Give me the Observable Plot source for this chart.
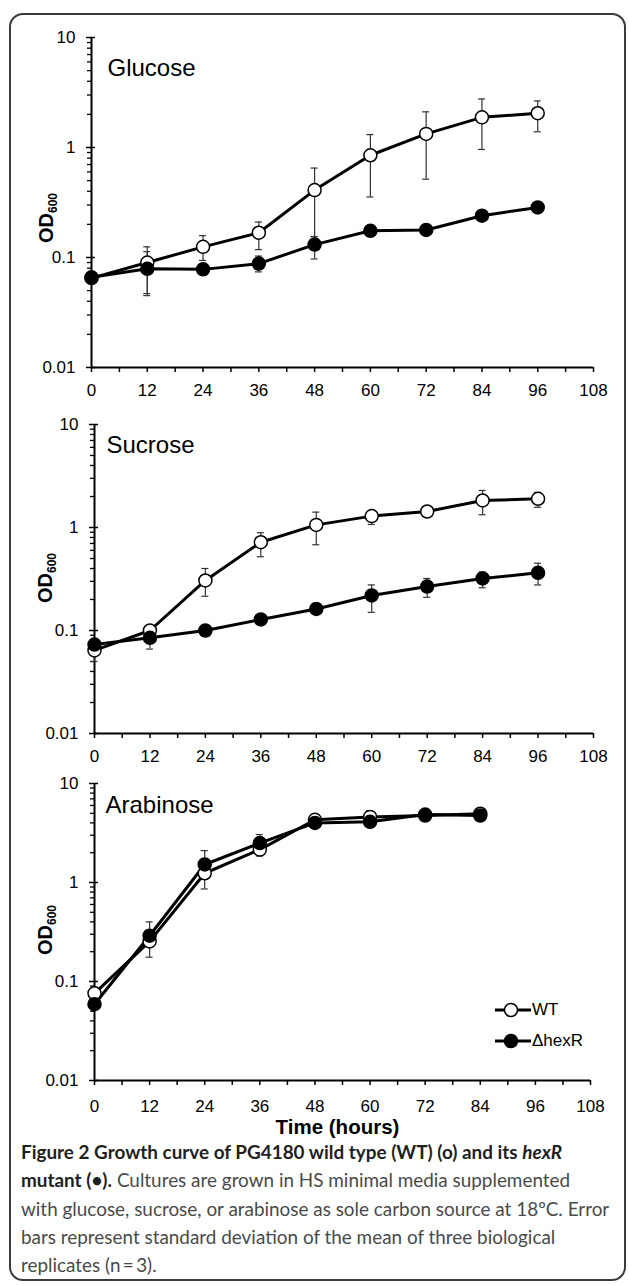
<!DOCTYPE html>
<html><head><meta charset="utf-8">
<script src="https://cdn.jsdelivr.net/npm/d3@7"></script>
<script src="https://cdn.jsdelivr.net/npm/@observablehq/plot@0.6"></script>
<style>
body{margin:0;background:#fff;}
#fig{position:relative;width:629px;height:1285px;overflow:hidden;background:#fff;font-family:"Liberation Sans",Arial,sans-serif;color:#000;}
.panel{position:absolute;left:0;}
.ylab{position:absolute;font-weight:bold;font-size:20px;white-space:nowrap;transform:translate(-50%,-50%) rotate(-90deg);line-height:1;}
.ylab sub{font-size:60%;vertical-align:baseline;position:relative;top:0.3em;}
#border{position:absolute;left:9px;top:13px;width:617px;height:1268px;border:2px solid #3a3a3a;border-radius:14px;box-sizing:border-box;}
#caption{position:absolute;left:21px;top:1138px;font-family:Lato,"Open Sans",sans-serif;color:#4a4a4a;}
#caption div{height:28.3px;line-height:28.3px;white-space:nowrap;}
#caption b{color:#231f20;}
.leg{position:absolute;font-size:17px;line-height:1;}
</style></head>
<body><div id="fig"><div id="border"></div></div>
<script>
// ---- data ----
const hours = [0, 12, 24, 36, 48, 60, 72, 84, 96];
const araHours = [0, 12, 24, 36, 48, 60, 72, 84];

const gluWT    = [0.065, 0.090, 0.125, 0.168, 0.41, 0.85, 1.33, 1.88, 2.05];
const gluWTLo  = [0.063, 0.045, 0.094, 0.118, 0.155, 0.355, 0.515, 0.96, 1.39];
const gluWTHi  = [0.067, 0.125, 0.158, 0.21, 0.65, 1.31, 2.11, 2.76, 2.65];
const gluMut   = [0.066, 0.079, 0.078, 0.088, 0.131, 0.175, 0.178, 0.24, 0.285];
const gluMutLo = [0.064, 0.047, 0.074, 0.074, 0.097, 0.168, 0.170, 0.225, 0.27];
const gluMutHi = [0.068, 0.113, 0.083, 0.103, 0.155, 0.183, 0.186, 0.255, 0.30];

const sucWT    = [0.064, 0.100, 0.306, 0.72, 1.06, 1.29, 1.43, 1.83, 1.90];
const sucWTLo  = [0.050, 0.096, 0.215, 0.52, 0.68, 1.07, 1.31, 1.33, 1.57];
const sucWTHi  = [0.072, 0.104, 0.40, 0.89, 1.41, 1.43, 1.52, 2.29, 2.19];
const sucMut   = [0.073, 0.085, 0.100, 0.128, 0.162, 0.219, 0.267, 0.32, 0.363];
const sucMutLo = [0.066, 0.066, 0.088, 0.114, 0.155, 0.15, 0.21, 0.26, 0.277];
const sucMutHi = [0.080, 0.095, 0.112, 0.142, 0.170, 0.277, 0.32, 0.37, 0.45];

const araWT    = [0.076, 0.254, 1.24, 2.15, 4.3, 4.6, 4.75, 4.95];
const araWTLo  = [0.070, 0.176, 0.86, 1.85, 4.1, 4.3, 4.6, 4.8];
const araWTHi  = [0.082, 0.33, 1.6, 2.5, 4.5, 5.3, 4.9, 5.1];
const araMut   = [0.059, 0.29, 1.52, 2.5, 4.0, 4.1, 4.85, 4.75];
const araMutLo = [0.055, 0.24, 1.1, 2.2, 3.85, 3.95, 4.7, 4.6];
const araMutHi = [0.063, 0.40, 2.1, 3.05, 4.15, 4.25, 5.0, 4.9];

const yMajor = [0.01, 0.1, 1, 10];
const yMajorLabels = ["0.01", "0.1", "1", "10"];
const xTicks = [0, 6, 12, 18, 24, 30, 36, 42, 48, 54, 60, 66, 72, 78, 84, 90, 96, 102, 108];
const legendLabels = ["WT", "\u0394hexR"];

// ---- build ----
const rows = (t, v, lo, hi) => t.map((h, i) => ({t: h, v: v[i], lo: lo[i], hi: hi[i]}));
const yMinor = [0.01, 0.1, 1].flatMap(b => d3.range(2, 10).map(k => +(k * b).toPrecision(3)));
const fig = document.getElementById("fig");

function panel(o) {
  const W = 629;
  const plotW = W - o.mL - o.mR;
  const wt = rows(o.t, o.wt[0], o.wt[1], o.wt[2]);
  const mut = rows(o.t, o.mut[0], o.mut[1], o.mut[2]);
  const all = wt.concat(mut);
  const marks = [
    Plot.axisY({ticks: yMinor, tickSize: 4, tickFormat: () => "", label: null, strokeWidth: 1.3}),
    Plot.axisY({ticks: yMajor, tickSize: 5, tickPadding: 11, tickFormat: d => yMajorLabels[yMajor.indexOf(d)], label: null, strokeWidth: 1.5, fontSize: 17}),
    Plot.tickY(yMajor, {y: d => d, insetRight: plotW - 4, stroke: "#000", strokeWidth: 1.5}),
    Plot.axisX({ticks: xTicks, tickSize: 5, tickPadding: o.xPad, tickFormat: d => d % 12 === 0 ? String(d) : "", label: null, strokeWidth: 1.5, fontSize: 17}),
    Plot.ruleX([0], {stroke: "#000", strokeWidth: 2}),
    Plot.ruleY([0.01], {stroke: "#000", strokeWidth: 2}),
    Plot.ruleX(all, {x: "t", y1: "lo", y2: "hi", stroke: "#333", strokeWidth: 1.2}),
    Plot.ruleY(all, {y: "lo", x1: "t", x2: "t", insetLeft: -3.5, insetRight: -3.5, stroke: "#333", strokeWidth: 1.2}),
    Plot.ruleY(all, {y: "hi", x1: "t", x2: "t", insetLeft: -3.5, insetRight: -3.5, stroke: "#333", strokeWidth: 1.2}),
    Plot.line(wt, {x: "t", y: "v", stroke: "#000", strokeWidth: 3}),
    Plot.line(mut, {x: "t", y: "v", stroke: "#000", strokeWidth: 3}),
    Plot.dot(wt, {x: "t", y: "v", r: 6.5, fill: "#fff", stroke: "#000", strokeWidth: 1.5}),
    Plot.dot(mut, {x: "t", y: "v", r: 6.5, fill: "#000", stroke: "#000", strokeWidth: 1.5}),
    Plot.text([o.name], {frameAnchor: "top-left", dx: o.ldx, dy: o.ldy, textAnchor: "start", lineAnchor: "middle", fontSize: 24, fill: "#000"})
  ];
  if (o.time) marks.push(Plot.text([o.time], {frameAnchor: "bottom", dx: -5, dy: 47, lineAnchor: "middle", fontSize: 20.5, fontWeight: "bold", fill: "#000"}));
  const svg = Plot.plot({
    width: W, height: o.height,
    marginTop: o.mT, marginBottom: o.mB, marginLeft: o.mL, marginRight: o.mR,
    style: {fontFamily: "'Liberation Sans', Arial, sans-serif", fontSize: "17px", color: "#000", background: "transparent", overflow: "visible"},
    x: {domain: [0, 108]},
    y: {type: "log", domain: [0.01, 10]},
    marks
  });
  const wrap = document.createElement("div");
  wrap.className = "panel";
  wrap.style.top = o.top + "px";
  wrap.appendChild(svg);
  fig.appendChild(wrap);
  const yl = document.createElement("div");
  yl.className = "ylab";
  yl.innerHTML = "OD<sub>600</sub>";
  yl.style.left = o.odx + "px";
  yl.style.top = o.ody + "px";
  fig.appendChild(yl);
}

panel({name: "Glucose", t: hours, wt: [gluWT, gluWTLo, gluWTHi], mut: [gluMut, gluMutLo, gluMutHi],
  top: 0, height: 410, mT: 37, mB: 43, mL: 91, mR: 36, xPad: 11, ldx: 16, ldy: 31, odx: 46, ody: 218});
panel({name: "Sucrose", t: hours, wt: [sucWT, sucWTLo, sucWTHi], mut: [sucMut, sucMutLo, sucMutHi],
  top: 410, height: 360, mT: 14, mB: 37, mL: 94, mR: 36, xPad: 11, ldx: 12, ldy: 21, odx: 45, ody: 578});
panel({name: "Arabinose", t: araHours, wt: [araWT, araWTLo, araWTHi], mut: [araMut, araMutLo, araMutHi],
  top: 770, height: 365, mT: 13, mB: 55, mL: 94, mR: 39, xPad: 14, ldx: 11, ldy: 22, odx: 45, ody: 930, time: "Time (hours)"});

// ---- legend ----
legendLabels.forEach((lab, i) => {
  const cy = [1010, 1041][i];
  const s = document.createElementNS("http://www.w3.org/2000/svg", "svg");
  s.setAttribute("width", 40); s.setAttribute("height", 16);
  s.style.position = "absolute"; s.style.left = "493px"; s.style.top = (cy - 8) + "px";
  s.innerHTML = `<line x1="2" x2="38" y1="8" y2="8" stroke="#000" stroke-width="3"/>` +
    `<circle cx="18" cy="8" r="6.5" fill="${i === 0 ? "#fff" : "#000"}" stroke="#000" stroke-width="1.5"/>`;
  fig.appendChild(s);
  const t = document.createElement("div");
  t.className = "leg"; t.textContent = lab;
  t.style.left = "532px"; t.style.top = (cy - 9) + "px";
  fig.appendChild(t);
});

// ---- caption ----
const capLines = [
  "<b>Figure 2 Growth curve of PG4180 wild type (WT) (o) and its <i>hexR</i></b>",
  "<b>mutant (\u2022).</b> Cultures are grown in HS minimal media supplemented",
  "with glucose, sucrose, or arabinose as sole carbon source at 18\u00baC. Error",
  "bars represent standard deviation of the mean of three biological",
  "replicates (n\u2009=\u20093)."
];
const ctx = document.createElement("canvas").getContext("2d");
ctx.font = "400 20px Lato";
const w3 = ctx.measureText("with glucose, sucrose, or arabinose as sole carbon source at 18\u00baC. Error").width;
const fs = Math.min(20, 20 * 589 / w3);
const cap = document.createElement("div");
cap.id = "caption";
cap.style.fontSize = fs.toFixed(2) + "px";
cap.innerHTML = capLines.map(l => `<div>${l}</div>`).join("");
fig.appendChild(cap);
</script></body></html>
